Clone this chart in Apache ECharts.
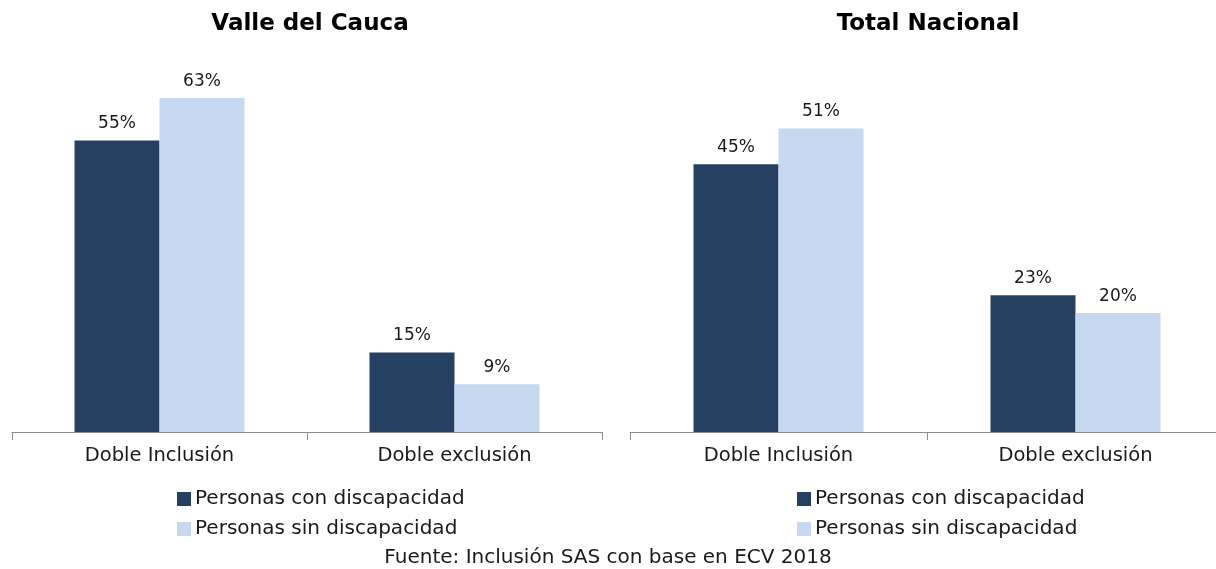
<!DOCTYPE html>
<html>
<head>
<meta charset="utf-8">
<script src="https://cdn.jsdelivr.net/npm/echarts@6/dist/echarts.min.js"></script>
<style>
  html, body { margin: 0; padding: 0; background: #fff; }
  #chart { width: 1216px; height: 569px; }
</style>
</head>
<body>
<div id="chart"></div>
<script>
  const categories = ['Doble Inclusión', 'Doble exclusión']
  const seriesNames = ['Personas con discapacidad', 'Personas sin discapacidad']
  const valleCon = [55, 15]
  const valleSin = [63, 9]
  const nacionalCon = [45, 23]
  const nacionalSin = [51, 20]

  const font = '"DejaVu Sans", sans-serif'
  const dark = '#264061'
  const light = '#c6d9f1'

  const chart = echarts.init(document.getElementById('chart'))

  function xAxisFor(idx) {
    return {
      type: 'category',
      gridIndex: idx,
      data: categories,
      axisLine: { lineStyle: { color: '#8c8c8c', width: 1 } },
      axisTick: { show: true, length: 8, lineStyle: { color: '#8c8c8c' } },
      axisLabel: { color: '#1a1a1a', fontFamily: font, fontSize: 19.5, margin: 14 }
    }
  }
  function yAxisFor(idx, max) {
    return {
      type: 'value', gridIndex: idx, min: 0, max: max,
      show: false, splitLine: { show: false }
    }
  }
  function barFor(name, idx, data, color) {
    return {
      name: name,
      type: 'bar',
      xAxisIndex: idx,
      yAxisIndex: idx,
      barWidth: 85,
      barGap: '0%',
      itemStyle: { color: color },
      label: {
        show: true, position: 'top', distance: 8,
        formatter: '{c}%', color: '#1a1a1a', fontFamily: font, fontSize: 17
      },
      data: data
    }
  }

  // leyenda vertical debajo de cada grafico
  const legendBase = {
    orient: 'vertical',
    itemWidth: 14, itemHeight: 14, itemGap: 10,
    icon: 'rect',
    textStyle: { fontFamily: font, fontSize: 20, color: '#1a1a1a', padding: [0, 0, 0, -1] },
    data: seriesNames
  }

  const option = {
    animation: false,
    title: [
      { text: 'Valle del Cauca', left: 305, top: 8, textAlign: 'center',
        textStyle: { fontFamily: font, fontSize: 23, fontWeight: 'bold', color: '#000' } },
      { text: 'Total Nacional', left: 923, top: 8, textAlign: 'center',
        textStyle: { fontFamily: font, fontSize: 23, fontWeight: 'bold', color: '#000' } },
      { text: 'Fuente: Inclusión SAS con base en ECV 2018', left: 603, top: 543, textAlign: 'center',
        textStyle: { fontFamily: font, fontSize: 20, fontWeight: 'normal', color: '#1a1a1a' } }
    ],
    legend: [
      Object.assign({ left: 172, top: 484 }, legendBase),
      Object.assign({ left: 792, top: 484 }, legendBase)
    ],
    grid: [
      { left: 12, top: 61, width: 590, height: 371, outerBoundsMode: 'none' },
      { left: 630, top: 75, width: 594, height: 357, outerBoundsMode: 'none' }
    ],
    xAxis: [xAxisFor(0), xAxisFor(1)],
    yAxis: [yAxisFor(0, 70), yAxisFor(1, 60)],
    series: [
      barFor(seriesNames[0], 0, valleCon, dark),
      barFor(seriesNames[1], 0, valleSin, light),
      barFor(seriesNames[0], 1, nacionalCon, dark),
      barFor(seriesNames[1], 1, nacionalSin, light)
    ]
  }
  chart.setOption(option)
</script>
</body>
</html>
